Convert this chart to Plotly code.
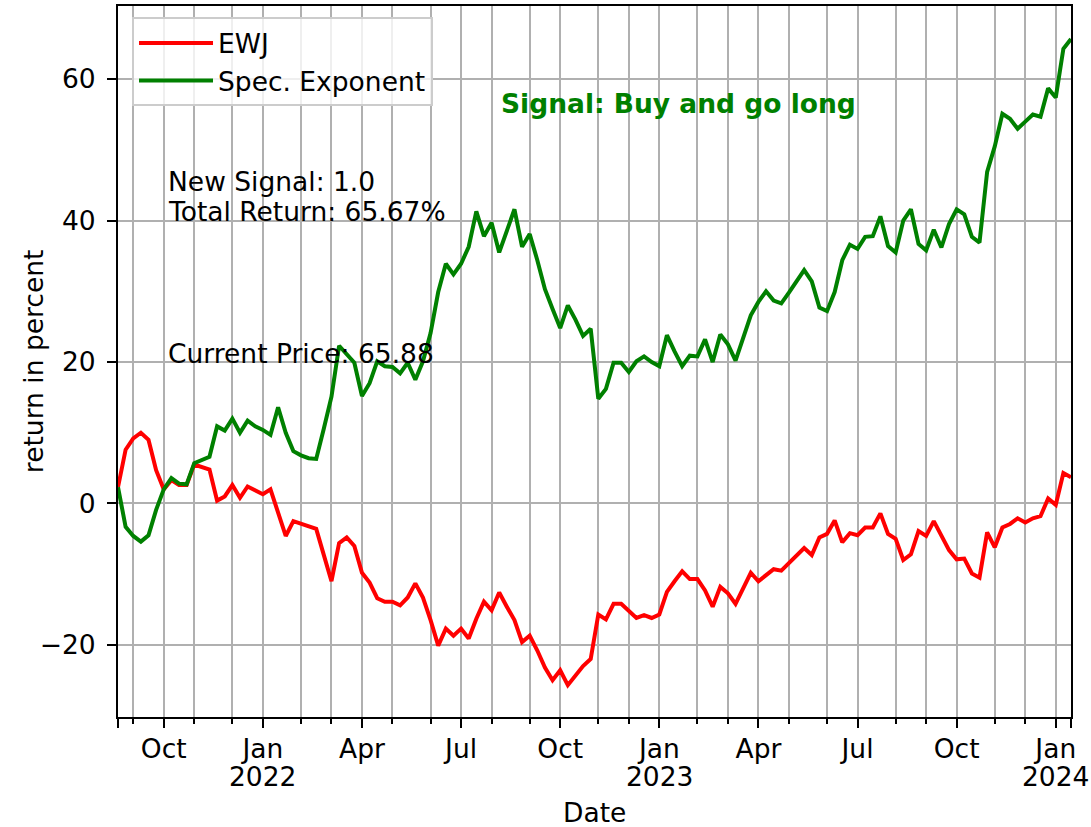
import pandas as pd
import plotly.graph_objects as go

# ---- data (weekly, Mondays) ----
start_date = "2021-08-23"
n_weeks = 126

ewj = [2.3, 7.6, 9.2, 10.0, 9.0, 4.7, 2.0, 3.3, 2.6, 2.6,
       5.5, 5.1, 4.8, 0.4, 1.0, 2.6, 0.8, 2.4, 1.8, 1.3,
       2.0, -1.4, -4.6, -2.5, -2.9, -3.3, -3.6, -7.3, -11.0, -5.6,
       -4.8, -6.0, -9.8, -11.2, -13.4, -13.9, -13.9, -14.4, -13.3, -11.3,
       -13.3, -16.5, -20.1, -17.7, -18.7, -17.7, -19.1, -16.3, -13.9, -15.1,
       -12.6, -14.6, -16.5, -19.6, -18.7, -20.8, -23.2, -25.0, -23.6, -25.7,
       -24.4, -23.0, -22.0, -15.7, -16.4, -14.2, -14.2, -15.2, -16.2, -15.8,
       -16.2, -15.7, -12.5, -11.0, -9.6, -10.7, -10.7, -12.3, -14.6, -11.8,
       -12.7, -14.2, -12.1, -9.8, -11.0, -10.2, -9.3, -9.5, -8.4, -7.3,
       -6.3, -7.3, -4.8, -4.3, -2.4, -5.5, -4.2, -4.5, -3.4, -3.4,
       -1.4, -4.3, -5.0, -8.0, -7.2, -3.9, -4.6, -2.5, -4.5, -6.6,
       -7.9, -7.8, -9.9, -10.5, -4.1, -6.2, -3.4, -2.9, -2.1, -2.7,
       -2.1, -1.8, 0.7, -0.2, 4.3, 3.7]

spec_exp = [2.3, -3.3, -4.6, -5.4, -4.5, -0.9, 2.0, 3.6, 2.8, 2.7,
            5.7, 6.1, 6.6, 10.9, 10.3, 12.0, 10.0, 11.7, 10.9, 10.4,
            9.7, 13.6, 10.0, 7.4, 6.8, 6.4, 6.3, 10.6, 15.1, 22.3,
            21.2, 19.9, 15.2, 17.0, 20.1, 19.4, 19.3, 18.4, 19.9, 17.5,
            20.1, 24.1, 29.9, 33.9, 32.4, 33.9, 36.3, 41.3, 37.8, 39.7,
            35.5, 38.7, 41.6, 36.3, 38.1, 34.4, 30.3, 27.5, 24.8, 28.0,
            26.0, 23.7, 24.7, 14.8, 16.2, 19.9, 19.9, 18.6, 20.1, 20.8,
            20.0, 19.4, 23.8, 21.5, 19.4, 20.9, 20.8, 23.2, 20.0, 23.9,
            22.5, 20.2, 23.3, 26.6, 28.5, 30.0, 28.7, 28.3, 29.8, 31.3,
            33.0, 31.4, 27.7, 27.2, 29.9, 34.4, 36.6, 36.0, 37.7, 37.8,
            40.6, 36.4, 35.5, 40.0, 41.6, 36.7, 35.8, 38.7, 36.2, 39.5,
            41.6, 40.9, 37.7, 36.9, 46.9, 50.5, 55.1, 54.4, 53.0, 54.0,
            55.0, 54.7, 58.7, 57.4, 64.3, 65.67]

quarter_labels = ["Oct", "Jan", "Apr", "Jul", "Oct", "Jan", "Apr", "Jul", "Oct", "Jan"]
year_labels = ["2022", "2023", "2024"]
y_ticks = [-20, 0, 20, 40, 60]

x_title = "Date"
y_title = "return in percent"
signal_text = "Signal: Buy and go long"
new_signal_text = "New Signal: 1.0"
total_return_text = "Total Return: 65.67%"
price_text = "Current Price: 65.88"

# ---- build axis ticks (week containing the first of each month) ----
dates = pd.date_range(start_date, periods=n_weeks, freq="7D")
month_starts = pd.date_range(dates[0].replace(day=1), dates[-1], freq="MS")
major_vals, minor_vals, year_vals = [], [], []
for ms in month_starts:
    wk = dates[dates >= ms]
    if len(wk) == 0:
        continue
    d = wk[0]
    if d - ms > pd.Timedelta(days=6):
        continue
    if ms.month in (1, 4, 7, 10):
        major_vals.append(d)
        if ms.month == 1:
            year_vals.append(d)
    else:
        minor_vals.append(d)

tickvals = [dates[0]] + major_vals + [dates[-1]]
ticktext = [""] + quarter_labels + [""]

FONT = "DejaVu Sans, Verdana, sans-serif"
GRID = "#b0b0b0"
FS = 26.5

fig = go.Figure()
fig.add_trace(go.Scatter(x=dates, y=ewj, mode="lines", name="EWJ",
                         line=dict(color="#ff0000", width=4)))
fig.add_trace(go.Scatter(x=dates, y=spec_exp, mode="lines", name="Spec. Exponent",
                         line=dict(color="#008000", width=4)))

fig.update_layout(
    width=1091, height=827,
    margin=dict(l=118, r=20, t=6, b=110),
    paper_bgcolor="white", plot_bgcolor="white",
    font=dict(family=FONT, size=FS, color="black"),
    showlegend=True,
    legend=dict(x=0.0147, y=0.984, xanchor="left", yanchor="top",
                bgcolor="rgba(255,255,255,0.8)", bordercolor="#cccccc",
                borderwidth=2, font=dict(size=FS), itemwidth=74,
                tracegroupgap=0),
)

fig.update_xaxes(
    range=[dates[0], dates[-1]], automargin=False,
    tickmode="array", tickvals=tickvals, ticktext=ticktext,
    ticks="outside", ticklen=9, tickwidth=2, tickcolor="black",
    ticklabelstandoff=-2,
    showgrid=True, gridcolor=GRID, gridwidth=2,
    showline=True, linecolor="black", linewidth=2, mirror=True,
    zeroline=False, tickangle=0,
    minor=dict(tickmode="array", tickvals=minor_vals, ticks="outside",
               ticklen=5, tickwidth=1.5, tickcolor="black",
               showgrid=True, gridcolor=GRID, gridwidth=2),
)
fig.update_yaxes(
    range=[-30.2, 70.35], automargin=False,
    tickmode="array", tickvals=y_ticks,
    ticks="outside", ticklen=9, tickwidth=2, tickcolor="black",
    ticklabelstandoff=6,
    showgrid=True, gridcolor=GRID, gridwidth=2,
    showline=True, linecolor="black", linewidth=2, mirror=True,
    zeroline=False,
)

def px_x(px):
    return (px - 118) / 953.0

def px_y(py):
    return 1 - (py - 6) / 710.7

# year labels under January ticks
for yv, yl in zip(year_vals, year_labels):
    fig.add_annotation(x=yv, y=px_y(776), xref="x", yref="paper", text=yl,
                       showarrow=False, xanchor="center", yanchor="middle",
                       font=dict(size=FS))
# axis titles
fig.add_annotation(x=px_x(594), y=px_y(812), xref="paper", yref="paper",
                   text=x_title, showarrow=False, xanchor="center",
                   yanchor="middle", font=dict(size=FS))
fig.add_annotation(x=px_x(33), y=px_y(361), xref="paper", yref="paper",
                   text=y_title, showarrow=False, textangle=-90,
                   xanchor="center", yanchor="middle", font=dict(size=FS))

fig.add_annotation(x=px_x(678), y=px_y(103), xref="paper", yref="paper",
                   text="<b>" + signal_text + "</b>", showarrow=False,
                   xanchor="center", yanchor="middle",
                   font=dict(size=FS, color="#008000", family=FONT))
fig.add_annotation(x=px_x(166), y=px_y(181), xref="paper", yref="paper",
                   text=new_signal_text, showarrow=False,
                   xanchor="left", yanchor="middle", font=dict(size=FS))
fig.add_annotation(x=px_x(166), y=px_y(211), xref="paper", yref="paper",
                   text=total_return_text, showarrow=False,
                   xanchor="left", yanchor="middle", font=dict(size=FS))
fig.add_annotation(x=px_x(166), y=px_y(353), xref="paper", yref="paper",
                   text=price_text, showarrow=False,
                   xanchor="left", yanchor="middle", font=dict(size=FS))

fig.write_html("out.html",
               config={"displayModeBar": False},
               post_script="document.body.style.margin='0';document.body.style.padding='0';")
